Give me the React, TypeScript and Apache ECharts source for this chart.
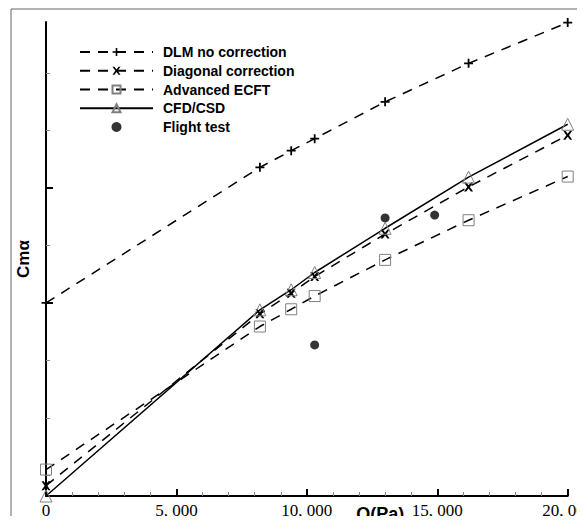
import React, { useEffect, useRef } from "react";
import * as echarts from "echarts";

// Dynamic pressure Q (Pa) at which the computed curves were evaluated
const qValues = [0, 8200, 9400, 10300, 13000, 16200, 20000];
// Cmα values (arbitrary units, y axis carries no labels)
const dlmNoCorrection = [3.0, 5.36, 5.65, 5.86, 6.5, 7.17, 7.88];
const diagonalCorrection = [-0.18, 2.81, 3.17, 3.46, 4.2, 5.02, 5.92];
const advancedEcft = [0.1, 2.59, 2.89, 3.12, 3.75, 4.44, 5.2];
const cfdCsd = [-0.36, 2.88, 3.23, 3.53, 4.3, 5.19, 6.11];
// Flight test points
const flightQ = [10300, 13000, 14900];
const flightCm = [2.27, 4.48, 4.53];
// Axis ticks
const yMajorTicks = [3, 5];
const yMinorTicks = [0, 1, 2, 4, 6, 7];

const seriesNames = [
  "DLM no correction",
  "Diagonal correction",
  "Advanced ECFT",
  "CFD/CSD",
  "Flight test",
];

const PLUS = "path://M-1,-5H1V-1H5V1H1V5H-1V1H-5V-1H-1Z";
const CROSS =
  "path://M-5,-5L-2.6,-5L0,-1.7L2.6,-5L5,-5L1.5,0L5,5L2.6,5L0,1.7L-2.6,5L-5,5L-1.5,0Z";

function pair(xs: number[], ys: number[]) {
  return xs.map((x, i) => [x, ys[i]]);
}

export default function App() {
  const ref = useRef<HTMLDivElement>(null);
  useEffect(() => {
    if (!ref.current) return;
    const chart = echarts.init(ref.current, null, { renderer: "svg" });
    const dashed = { color: "#000", width: 1.5, type: [10, 8] as any };
    const hollow = { color: "rgba(0,0,0,0)", borderColor: "#808080", borderWidth: 1 };
    chart.setOption({
      animation: false,
      backgroundColor: "#fff",
      graphic: [
        {
          type: "rect",
          shape: { x: 11, y: 9, width: 600, height: 512.5 },
          style: { fill: "none", stroke: "#666", lineWidth: 1 },
          silent: true,
        },
      ],
      legend: {
        orient: "vertical",
        left: 79,
        top: 45,
        padding: 0,
        itemWidth: 73,
        itemHeight: 10,
        itemGap: 4.75,
        data: seriesNames,
        textStyle: {
          fontFamily: "Liberation Sans, Arial, sans-serif",
          fontWeight: "bold",
          fontSize: 14,
          color: "#000",
          padding: [0, 0, 0, 5],
        },
      },
      grid: { left: 46, right: 17.3, top: 22, bottom: 28, outerBoundsMode: "none", containLabel: false },
      xAxis: {
        type: "value",
        min: 0,
        max: 20000,
        interval: 5000,
        name: "Q(Pa)",
        nameLocation: "middle",
        nameGap: 9,
        nameMoveOverlap: false,
        nameTextStyle: {
          fontFamily: "Liberation Sans, Arial, sans-serif",
          fontWeight: "bold",
          fontSize: 18,
          color: "#000",
          verticalAlign: "top",
          padding: [0, 0, 0, 147],
        },
        axisLine: { show: true, onZero: false, lineStyle: { color: "#000", width: 2 } },
        axisTick: { show: true, inside: true, length: 7, lineStyle: { color: "#000", width: 2 } },
        minorTick: { show: true, splitNumber: 5, length: 4, lineStyle: { color: "#888", width: 1 } },
        splitLine: { show: false },
        axisLabel: {
          margin: 6,
          fontFamily: "Liberation Serif, Times New Roman, serif",
          fontSize: 17,
          color: "#000",
          formatter: (v: number) => v.toLocaleString("en-US").replace(",", ", "),
        },
      },
      yAxis: [
        {
          type: "value",
          min: -0.36,
          max: 7.89,
          position: "left",
          name: "Cmα",
          nameLocation: "middle",
          nameRotate: 90,
          nameGap: 14,
          nameMoveOverlap: false,
          nameTextStyle: {
            fontFamily: "Liberation Sans, Arial, sans-serif",
            fontWeight: "bold",
            fontSize: 17,
            color: "#000",
          },
          axisLine: { show: true, onZero: false, lineStyle: { color: "#000", width: 2 } },
          axisTick: {
            show: true,
            inside: true,
            length: 7,
            customValues: yMajorTicks,
            lineStyle: { color: "#000", width: 2 },
          },
          axisLabel: { show: false, customValues: yMajorTicks },
          splitLine: { show: false },
        },
        {
          type: "value",
          min: -0.36,
          max: 7.89,
          position: "left",
          offset: 0,
          axisLine: { show: false },
          axisTick: {
            show: true,
            inside: true,
            length: 4,
            customValues: yMinorTicks,
            lineStyle: { color: "#888", width: 1 },
          },
          axisLabel: { show: false, customValues: yMinorTicks },
          splitLine: { show: false },
        },
      ],
      series: [
        {
          name: seriesNames[0],
          type: "line",
          clip: false,
          data: pair(qValues, dlmNoCorrection),
          symbol: PLUS,
          symbolSize: 9,
          lineStyle: dashed,
          itemStyle: { color: "#000" },
        },
        {
          name: seriesNames[1],
          type: "line",
          clip: false,
          data: pair(qValues, diagonalCorrection),
          symbol: CROSS,
          symbolSize: 9,
          lineStyle: dashed,
          itemStyle: { color: "#000" },
        },
        {
          name: seriesNames[2],
          type: "line",
          clip: false,
          data: pair(qValues, advancedEcft),
          symbol: "rect",
          symbolSize: 11,
          lineStyle: dashed,
          itemStyle: hollow,
        },
        {
          name: seriesNames[3],
          type: "line",
          clip: false,
          data: pair(qValues, cfdCsd),
          symbol: "triangle",
          symbolSize: 12,
          lineStyle: { color: "#000", width: 1.5, type: "solid" },
          itemStyle: hollow,
        },
        {
          name: seriesNames[4],
          type: "scatter",
          clip: false,
          data: pair(flightQ, flightCm),
          symbol: "circle",
          symbolSize: 9,
          itemStyle: { color: "#000" },
        },
      ],
    });
    return () => chart.dispose();
  }, []);
  return <div ref={ref} style={{ width: 585, height: 524, margin: -8 }} />;
}
